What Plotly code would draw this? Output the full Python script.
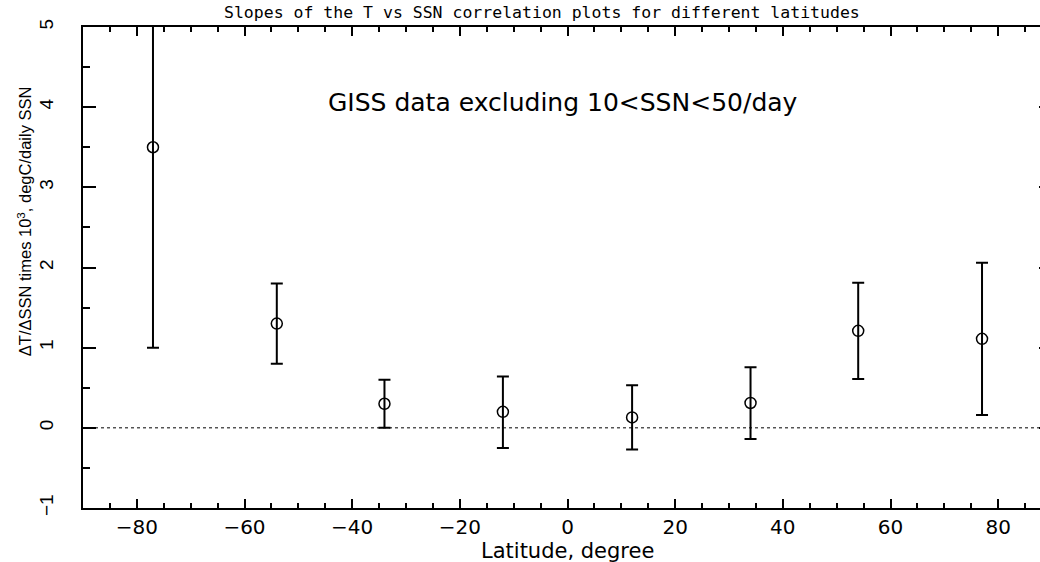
import plotly.graph_objects as go

# Data
latitude = [-77, -54, -34, -12, 12, 34, 54, 77]
slope = [3.5, 1.3, 0.3, 0.2, 0.13, 0.31, 1.21, 1.11]
err_plus = [2.5, 0.5, 0.3, 0.44, 0.4, 0.445, 0.6, 0.95]
err_minus = [2.5, 0.5, 0.3, 0.45, 0.4, 0.45, 0.6, 0.95]

x_ticks = [-80, -60, -40, -20, 0, 20, 40, 60, 80]
y_ticks = [-1, 0, 1, 2, 3, 4, 5]

title_text = "Slopes of the T vs SSN correlation plots for different latitudes"
note_text = "GISS data excluding 10&lt;SSN&lt;50/day"
x_title = "Latitude, degree"
y_title = "ΔT/ΔSSN times 10<sup>3</sup>, degC/daily SSN"

hershey = "DejaVu Sans"
mono = "DejaVu Sans Mono"
helv = "Liberation Sans"

fig = go.Figure()
fig.add_trace(go.Scatter(
    x=latitude, y=slope, mode="markers",
    marker=dict(symbol="circle-open", size=11, color="black", line=dict(width=1.5, color="black")),
    error_y=dict(type="data", array=err_plus, arrayminus=err_minus, symmetric=False,
                 color="black", thickness=2, width=6),
    showlegend=False,
))

fig.add_shape(type="line", xref="paper", x0=0, x1=1, yref="y", y0=0, y1=0,
              line=dict(color="black", width=1, dash="dot"), layer="below")

fig.update_layout(
    width=1052, height=562,
    margin=dict(l=83, r=0, t=27, b=54, autoexpand=False),
    paper_bgcolor="white", plot_bgcolor="white",
    font=dict(family=hershey, color="black"),
    xaxis=dict(
        range=[-90, 90], tickvals=x_ticks, ticks="inside", ticklen=9, tickwidth=1.5,
        tickcolor="black", showline=True, linecolor="black", linewidth=2, mirror="ticks",
        showgrid=False, zeroline=False, automargin=False,
        tickfont=dict(family=hershey, size=20), ticklabelstandoff=0,
        minor=dict(ticks="inside", ticklen=5, dtick=5, tickcolor="black", tickwidth=1.5, showgrid=False),
    ),
    yaxis=dict(
        range=[-1, 5], tickvals=y_ticks, ticks="inside", ticklen=13, tickwidth=1.5,
        tickcolor="black", showline=True, linecolor="black", linewidth=2, mirror="ticks",
        showgrid=False, zeroline=False, tickangle=-90, automargin=False,
        tickfont=dict(family=helv, size=19), ticklabelstandoff=20,
        minor=dict(ticks="inside", ticklen=7, dtick=0.5, tickcolor="black", tickwidth=1.5, showgrid=False),
    ),
    annotations=[
        dict(text=title_text, xref="paper", yref="paper", x=0.4735, y=1.031,
             xanchor="center", yanchor="middle", showarrow=False,
             font=dict(family=mono, size=16.5)),
        dict(text=note_text, xref="paper", yref="paper", x=0.4955, y=0.8437,
             xanchor="center", yanchor="middle", showarrow=False,
             font=dict(family=hershey, size=25)),
        dict(text=x_title, xref="paper", yref="paper", x=0.5, y=-0.089,
             xanchor="center", yanchor="middle", showarrow=False,
             font=dict(family=hershey, size=21)),
        dict(text=y_title, xref="paper", yref="paper", x=-0.0605, y=0.597,
             xanchor="center", yanchor="middle", showarrow=False, textangle=-90,
             font=dict(family=helv, size=16.5)),
    ],
)

fig.write_html(
    "out.html",
    config={"displayModeBar": False},
    post_script="document.body.style.margin='0px';document.body.style.overflow='hidden';"
                "document.documentElement.style.overflow='hidden';",
)
